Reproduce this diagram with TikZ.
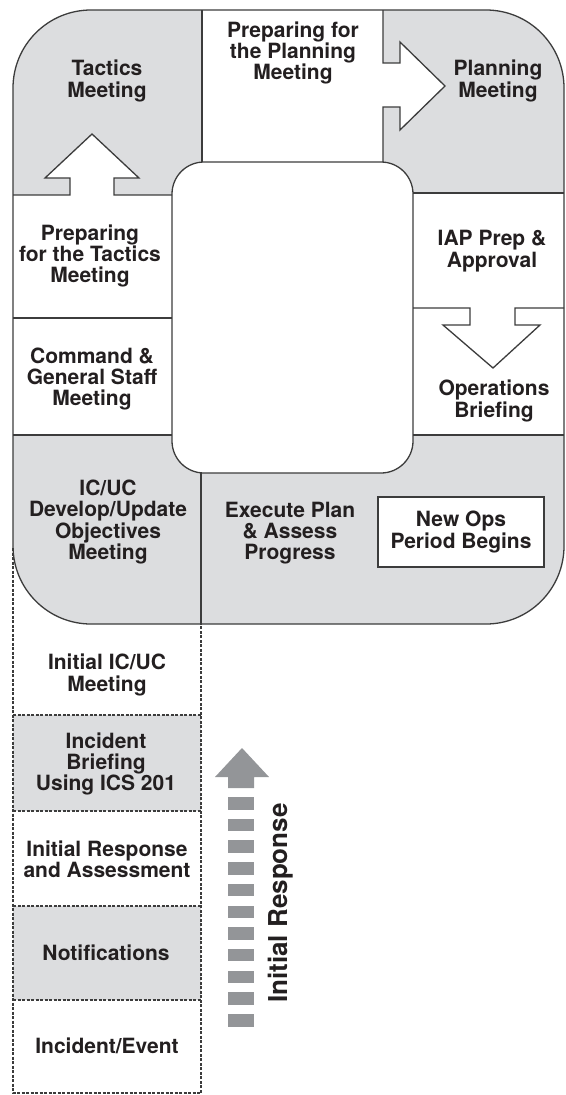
\documentclass[tikz,border=0pt]{standalone}
\usepackage{fontspec}
\setmainfont{TeX Gyre Heros}
\definecolor{panel}{HTML}{DCDDDF}
\definecolor{edge}{HTML}{3C3C3C}
\definecolor{arrowgray}{HTML}{939598}
\definecolor{ink}{HTML}{231F20}
\begin{document}
\begin{tikzpicture}[x=1pt,y=-1pt,
  line/.style={draw=edge, line width=1.3pt, line join=miter},
  dotline/.style={draw=edge, line width=1.2pt, dash pattern=on 3pt off 1.5pt},
  lbl/.style={font=\bfseries\fontsize{21}{21.3}\selectfont, align=center, text=ink, inner sep=0pt},
  boxed/.style={lbl, draw=edge, line width=1.3pt, fill=white, minimum width=166pt, minimum height=70pt},
  vlbl/.style={font=\bfseries\fontsize{26}{26}\selectfont, text=ink, inner sep=0pt, rotate=90},
]
\useasboundingbox (0,0) rectangle (565,1095);

% outer gray panel
\fill[panel, rounded corners=78pt] (13,10) rectangle (564,624);

% white areas
\fill[white] (202,10) -- (383,10) -- (383,63) -- (400,63) -- (400,42) -- (445,86)
  -- (400,130) -- (400,107) -- (383,107) -- (383,162) -- (202,162) -- cycle;
\fill[white] (13,435) -- (13,195) -- (70,195) -- (70,178) -- (45,178) -- (92,134)
  -- (139,178) -- (114,178) -- (114,195) -- (172,195) -- (172,435) -- cycle;
\fill[white] (413,193) rectangle (564,435);

% lower dotted column fills
\fill[panel] (13,715) rectangle (201,811);
\fill[panel] (13,906) rectangle (201,1000);

% inner hole
\draw[line, fill=white, rounded corners=32pt] (172,162) rectangle (413,473);

% dividers
\draw[line] (202,10) -- (202,162);
\draw[line] (383,10) -- (383,63) -- (400,63) -- (400,42) -- (445,86)
  -- (400,130) -- (400,107) -- (383,107) -- (383,162);
\draw[line] (13,195) -- (70,195) -- (70,178) -- (45,178) -- (92,134)
  -- (139,178) -- (114,178) -- (114,195) -- (172,195);
\draw[line] (13,318) -- (172,318);
\draw[line] (13,435) -- (172,435);
\draw[line] (413,193) -- (564,193);
\draw[line] (413,308) -- (470,308) -- (470,325) -- (443,325) -- (493,368)
  -- (540,325) -- (515,325) -- (515,308) -- (564,308);
\draw[line] (413,435) -- (564,435);
\draw[line] (201,473) -- (201,624);

% outer outline
\draw[line, rounded corners=78pt] (13,10) rectangle (564,624);

% dotted column
\draw[dotline] (13,548) -- (13,1093) -- (201,1093) -- (201,624);
\draw[dotline] (13,715) -- (201,715);
\draw[dotline] (13,811) -- (201,811);
\draw[dotline] (13,906) -- (201,906);
\draw[dotline] (13,1000) -- (201,1000);

% initial response arrow
\fill[arrowgray] (215,777) -- (242,748) -- (269,777) -- (254,777) -- (254,788)
  -- (228,788) -- (228,777) -- cycle;
\foreach \i in {0,...,10} {
  \fill[arrowgray] (228,{797+21.7*\i}) rectangle (254,{809.5+21.7*\i});
}
\node[vlbl] (initresp) at (281,903) {Initial Response};

% labels
\node[lbl] (tactics) at (107,81) {Tactics\\Meeting};
\node[lbl] (prepplan) at (293,53) {Preparing for\\the Planning\\Meeting};
\node[lbl] (planning) at (498,81) {Planning\\Meeting};
\node[lbl] (preptac) at (90,256) {Preparing\\for the Tactics\\Meeting};
\node[lbl] (iap) at (492,251) {IAP Prep \&\\Approval};
\node[lbl] (cgs) at (92,379) {Command \&\\General Staff\\Meeting};
\node[lbl] (ops) at (494,401) {Operations\\Briefing};
\node[lbl] (icuc) at (108,522) {IC/UC\\Develop/Update\\Objectives\\Meeting};
\node[lbl] (execute) at (290,533) {Execute Plan\\\& Assess\\Progress};
\node[boxed] (newops) at (461,532) {New Ops\\Period Begins};
\node[lbl] (initial) at (107,675) {Initial IC/UC\\Meeting};
\node[lbl] (briefing) at (106,764) {Incident\\Briefing\\Using ICS 201};
\node[lbl] (response) at (107,859) {Initial Response\\and Assessment};
\node[lbl] (notif) at (106,953) {Notifications};
\node[lbl] (event) at (107,1046) {Incident/Event};
\end{tikzpicture}
\end{document}
